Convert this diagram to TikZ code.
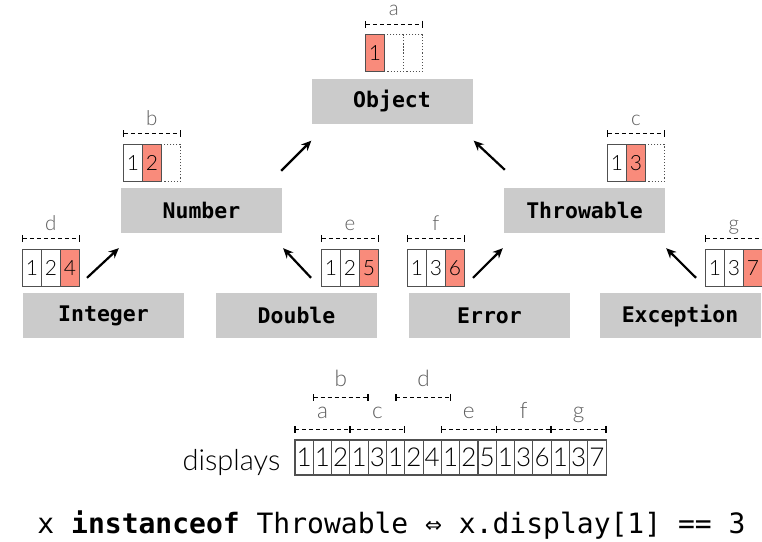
\documentclass[tikz,border=0pt]{standalone}
\usepackage{fontspec}
\usetikzlibrary{arrows.meta,positioning,calc}
\newfontfamily\codefont{DejaVu Sans Mono}
\newfontfamily\digfont{Lato Light}
\definecolor{boxgray}{HTML}{CBCBCB}
\definecolor{hitred}{HTML}{F98B7B}
\definecolor{lblgray}{HTML}{5E5E5E}
\definecolor{cellline}{HTML}{505050}

\begin{document}
\begin{tikzpicture}[x=1pt,y=-1pt]
    % Define styles
    \tikzstyle{cls} = [rectangle, fill=boxgray, minimum width=161pt, minimum height=45pt,
        inner sep=0pt, font=\codefont\bfseries\fontsize{21.5}{24}\selectfont]
    \tikzstyle{cell} = [rectangle, draw=cellline, line width=1.1pt, minimum width=19pt,
        minimum height=37pt, inner sep=0pt, font=\digfont\fontsize{21}{24}\selectfont]
    \tikzstyle{hit} = [cell, fill=hitred]
    \tikzstyle{free} = [cell, dotted]
    \tikzstyle{bcell} = [cell, minimum width=18.3pt, minimum height=35pt,
        font=\digfont\fontsize{26}{28}\selectfont]
    \tikzstyle{dim} = [line width=1.3pt, dash pattern=on 4pt off 3pt,
        {Bar[width=7pt]}-{Bar[width=7pt]}]
    \tikzstyle{lbl} = [text=lblgray, font=\digfont\fontsize{20.5}{22}\selectfont,
        inner sep=0pt, midway, anchor=base, yshift=8.5pt]
    \tikzstyle{blbl} = [lbl, font=\digfont\fontsize{22.5}{24}\selectfont, yshift=2pt]
    \tikzstyle{arrow} = [line width=2.2pt, -{Stealth[length=10pt,width=9pt]}]

    \useasboundingbox (0,0) rectangle (762,541);

    % Classes
    \node [cls] (object) at (392,101) {Object};
    \node [cls] (number) at (201.5,210.5) {Number};
    \node [cls] (throwable) at (584.5,210.5) {Throwable};
    \node [cls] (integer) at (103.5,315.5) {Integer};
    \node [cls] (double) at (296.5,315.5) {Double};
    \node [cls] (error) at (489.5,315.5) {Error};
    \node [cls] (exception) at (680,315.5) {Exception};

    % Displays of each class
    \foreach \v/\s [count=\i] in {1/hit,/free,/free}
        \node [\s, anchor=south west] (obj\i) at ($(object.north west)+({53.5+19*(\i-1)},-6)$) {\v};
    \foreach \v/\s [count=\i] in {1/cell,2/hit,/free}
        \node [\s, anchor=south west] (num\i) at ($(number.north west)+({2+19*(\i-1)},-6)$) {\v};
    \foreach \v/\s [count=\i] in {1/cell,3/hit,/free}
        \node [\s, anchor=south west] (thr\i) at ($(throwable.north west)+({103+19*(\i-1)},-6)$) {\v};
    \foreach \v/\s [count=\i] in {1/cell,2/cell,4/hit}
        \node [\s, anchor=south west] (int\i) at ($(integer.north west)+({-1+19*(\i-1)},-6)$) {\v};
    \foreach \v/\s [count=\i] in {1/cell,2/cell,5/hit}
        \node [\s, anchor=south west] (dbl\i) at ($(double.north west)+({105+19*(\i-1)},-6)$) {\v};
    \foreach \v/\s [count=\i] in {1/cell,3/cell,6/hit}
        \node [\s, anchor=south west] (err\i) at ($(error.north west)+({-2+19*(\i-1)},-6)$) {\v};
    \foreach \v/\s [count=\i] in {1/cell,3/cell,7/hit}
        \node [\s, anchor=south west] (exc\i) at ($(exception.north west)+({105.5+19*(\i-1)},-6)$) {\v};

    % Ranges above the displays
    \draw [dim] ($(obj1.north west)+(0,-10)$) -- ($(obj3.north east)+(0,-10)$) node [lbl] {a};
    \draw [dim] ($(num1.north west)+(0,-10)$) -- ($(num3.north east)+(0,-10)$) node [lbl] {b};
    \draw [dim] ($(thr1.north west)+(0,-10)$) -- ($(thr3.north east)+(0,-10)$) node [lbl] {c};
    \draw [dim] ($(int1.north west)+(0,-10)$) -- ($(int3.north east)+(0,-10)$) node [lbl] {d};
    \draw [dim] ($(dbl1.north west)+(0,-10)$) -- ($(dbl3.north east)+(0,-10)$) node [lbl] {e};
    \draw [dim] ($(err1.north west)+(0,-10)$) -- ($(err3.north east)+(0,-10)$) node [lbl] {f};
    \draw [dim] ($(exc1.north west)+(0,-10)$) -- ($(exc3.north east)+(0,-10)$) node [lbl] {g};

    % Arrows
    \draw [arrow] ($(integer.north)+(-16.5,-15)$) -- ($(number.south west)+(-2,15)$);
    \draw [arrow] ($(double.north)+(14.5,-15)$) -- ($(number.south east)+(1,15)$);
    \draw [arrow] ($(number.north east)+(-1,-17)$) -- ($(object.south west)+(0,17)$);
    \draw [arrow] ($(throwable.north west)+(1,-18)$) -- ($(object.south east)+(1,17)$);
    \draw [arrow] ($(error.north)+(-16.5,-15)$) -- ($(throwable.south west)+(-1,15)$);
    \draw [arrow] ($(exception.north)+(16,-15)$) -- ($(throwable.south east)+(1,15)$);

    % All displays in one array
    \foreach \v [count=\i] in {1,1,2,1,3,1,2,4,1,2,5,1,3,6,1,3,7}
        \node [bcell] (disp\i) at ({295+18.3*(\i-0.5)},457.5) {\v};
    \node [left=14pt of disp1, inner sep=0pt, yshift=-5pt,
        font=\digfont\fontsize{29}{32}\selectfont] (displbl) {displays};

    \draw [dim] ($(disp1.north west)+(0,-10)$) -- ($(disp3.north east)+(0,-10)$) node [blbl] {a};
    \draw [dim] ($(disp4.north west)+(0,-10)$) -- ($(disp6.north east)+(0,-10)$) node [blbl] {c};
    \draw [dim] ($(disp9.north west)+(0,-10)$) -- ($(disp11.north east)+(0,-10)$) node [blbl] {e};
    \draw [dim] ($(disp12.north west)+(0,-10)$) -- ($(disp14.north east)+(0,-10)$) node [blbl] {f};
    \draw [dim] ($(disp15.north west)+(0,-10)$) -- ($(disp17.north east)+(0,-10)$) node [blbl] {g};
    \draw [dim] ($(disp2.north west)+(0,-42)$) -- ($(disp4.north east)+(0,-42)$) node [blbl] {b};
    \draw [dim] ($(disp6.north west)+(9.5,-42)$) -- ($(disp8.north east)+(9.5,-42)$) node [blbl] {d};

    % Rule
    \node [anchor=base, font=\codefont\fontsize{28}{32}\selectfont] (rule) at (391.5,533)
        {x \textbf{instanceof} Throwable ⇔ x.display[1] == 3};
\end{tikzpicture}
\end{document}
